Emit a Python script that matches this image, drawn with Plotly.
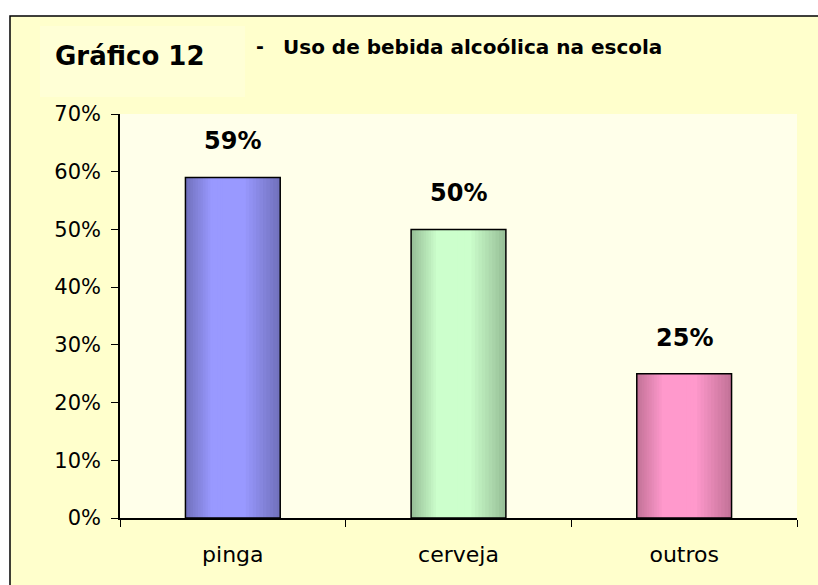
import plotly.graph_objects as go

# dados do gráfico
categorias = ["pinga", "cerveja", "outros"]
valores = [0.59, 0.50, 0.25]
rotulos = ["59%", "50%", "25%"]
cores_claras = ["#9999FF", "#CCFFCC", "#FF99CC"]
cores_escuras = ["#7272BE", "#98C098", "#C47399"]

W, H = 818, 585
ML, MR, MT, MB = 120, 21, 114, 67
PW, PH = W - ML - MR, H - MT - MB


def px_x(x):
    # pixel -> paper
    return (x - ML) / PW


def px_y(y):
    return (H - MB - y) / PH


def mix(c1, c2, f):
    a = [int(c1[i:i + 2], 16) for i in (1, 3, 5)]
    b = [int(c2[i:i + 2], 16) for i in (1, 3, 5)]
    return "rgb(%d,%d,%d)" % tuple(round(a[j] + (b[j] - a[j]) * f) for j in range(3))


fig = go.Figure()

# barras com sombreado "cilindrico": camadas sobrepostas
largura = 0.42
n = 16
pico = 0.42
for k in range(n):
    t = k / n
    a = pico * t
    b = 1 - (1 - pico) * t
    f = min(1.0, t * 1.6)
    cores = [mix(e, c, f) for e, c in zip(cores_escuras, cores_claras)]
    fig.add_trace(go.Bar(
        x=categorias, y=valores,
        width=(b - a) * largura,
        offset=-largura / 2 + a * largura,
        marker=dict(color=cores, line=dict(width=0)),
        showlegend=False, hoverinfo="skip",
    ))

# contorno preto por cima
fig.add_trace(go.Bar(
    x=categorias, y=valores, width=largura,
    marker=dict(color="rgba(0,0,0,0)", line=dict(color="black", width=1.5)),
    showlegend=False, hovertemplate="%{x}: %{y:.0%}<extra></extra>",
))

for cat, v, r in zip(categorias, valores, rotulos):
    fig.add_annotation(x=cat, y=v, text="<b>%s</b>" % r, showarrow=False,
                       yanchor="bottom", yshift=20,
                       font=dict(size=24, color="black", family="DejaVu Sans"))

# fundo do quadro e da area de plotagem
fig.add_shape(type="rect", xref="paper", yref="paper",
              x0=px_x(10), x1=px_x(840), y0=px_y(620), y1=px_y(16),
              fillcolor="#FFFFCC", line=dict(color="black", width=1.5), layer="below")
fig.add_shape(type="rect", xref="paper", yref="paper",
              x0=px_x(40), x1=px_x(245), y0=px_y(97), y1=px_y(26),
              fillcolor="#FFFFD6", line=dict(width=0), layer="below")
fig.add_shape(type="rect", xref="paper", yref="paper",
              x0=0, x1=1, y0=0, y1=1,
              fillcolor="#FFFFEA", line=dict(width=0), layer="below")

fig.add_annotation(xref="paper", yref="paper", x=px_x(53), y=px_y(56),
                   xanchor="left", yanchor="middle", showarrow=False,
                   text="<b>Gráfico 12</b>",
                   font=dict(size=26, color="black", family="DejaVu Sans"))
fig.add_annotation(xref="paper", yref="paper", x=px_x(254), y=px_y(46),
                   xanchor="left", yanchor="middle", showarrow=False,
                   text="<b>-</b>", font=dict(size=19, color="black", family="DejaVu Sans"))
fig.add_annotation(xref="paper", yref="paper", x=px_x(281), y=px_y(47),
                   xanchor="left", yanchor="middle", showarrow=False,
                   text="<b>Uso de bebida alcoólica na escola</b>",
                   font=dict(size=20, color="black", family="DejaVu Sans"))

fig.update_layout(
    width=W, height=H,
    margin=dict(l=ML, r=MR, t=MT, b=MB),
    paper_bgcolor="white", plot_bgcolor="rgba(0,0,0,0)",
    barmode="overlay",
    font=dict(family="DejaVu Sans", size=21, color="black"),
)
fig.update_xaxes(showline=True, linecolor="black", linewidth=1.5,
                 ticks="outside", tickson="boundaries", ticklen=7, tickcolor="black",
                 tickfont=dict(size=22), ticklabelstandoff=16,
                 showgrid=False, fixedrange=True)
fig.update_yaxes(range=[0, 0.7], dtick=0.1, tickformat=".0%",
                 showline=True, linecolor="black", linewidth=1.5,
                 ticks="outside", ticklen=7, tickcolor="black",
                 ticklabelstandoff=6, showgrid=False, zeroline=False, fixedrange=True)

# sem margem da pagina, para a figura ocupar a janela inteira
fig.write_html("out.html", config={"displayModeBar": False},
               post_script="document.body.style.margin='0';")
